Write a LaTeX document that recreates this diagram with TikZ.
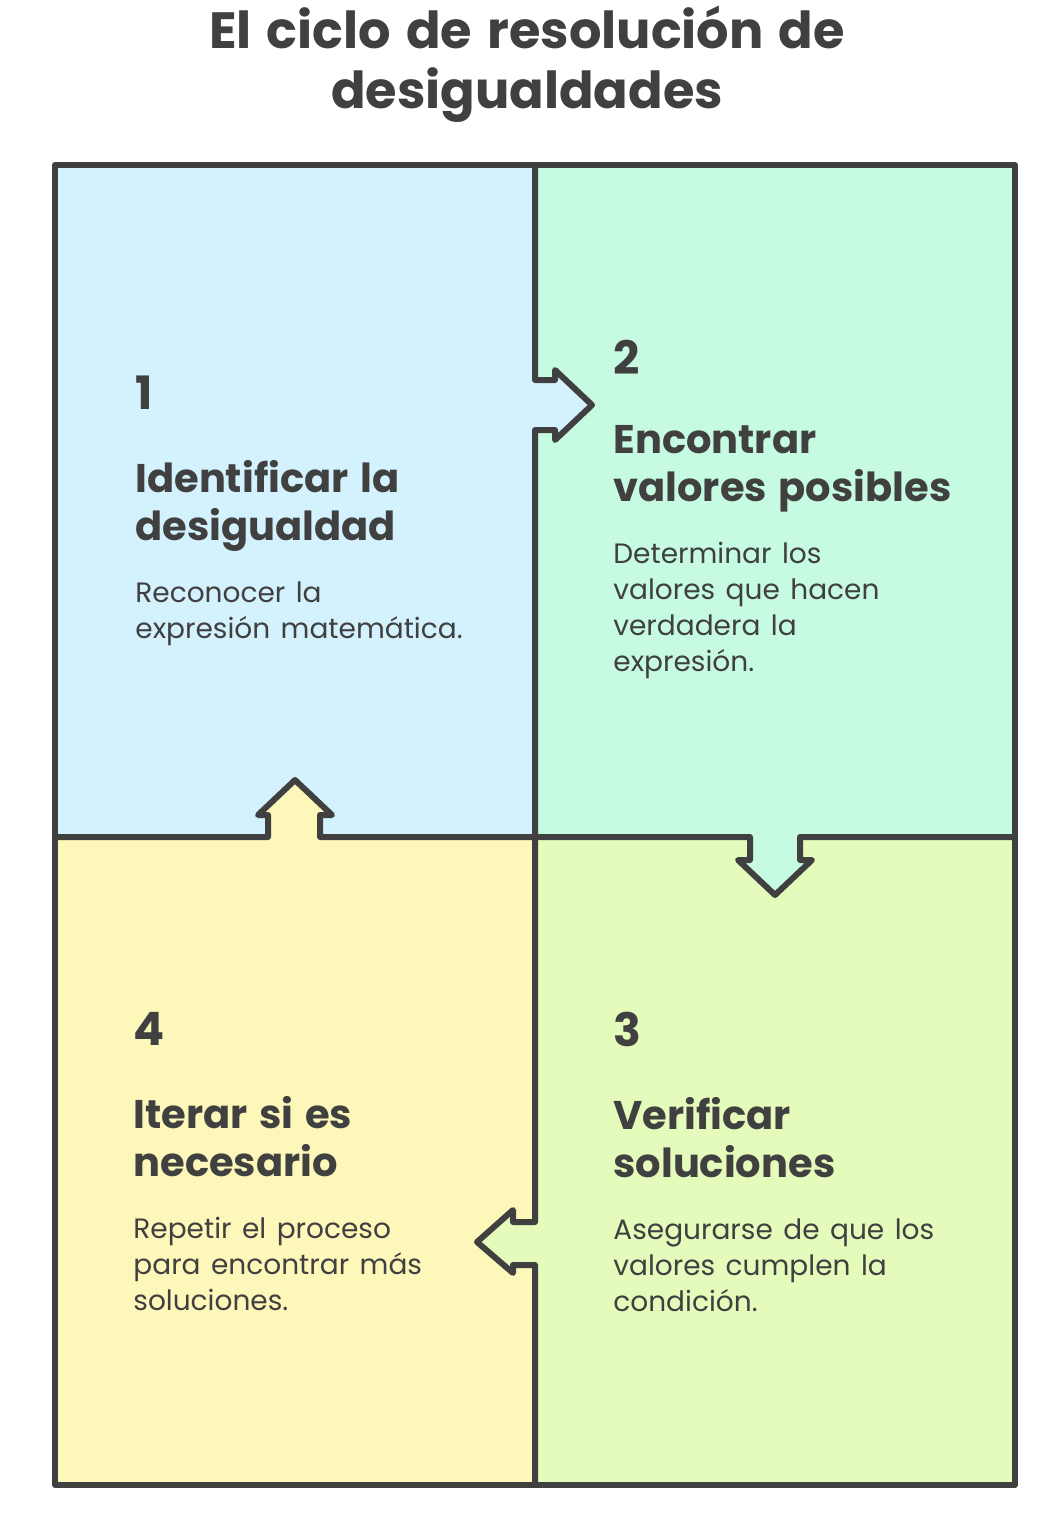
\documentclass[tikz,border=0pt]{standalone}
\usepackage{fontspec}
\setmainfont{Poppins}[WordSpace=1.4]
\usetikzlibrary{positioning}
\definecolor{ink}{HTML}{404040}
\definecolor{paneblue}{HTML}{D3F2FD}
\definecolor{panemint}{HTML}{C6FAE1}
\definecolor{panelime}{HTML}{E4FBBB}
\definecolor{paneyellow}{HTML}{FDF7BA}
\tikzset{
  frame/.style={draw=ink, line width=3pt, line join=round, line cap=round},
  stepnum/.style={anchor=north west, inner sep=0pt, text=ink, font=\fontsize{23}{26}\selectfont\bfseries},
  heading/.style={anchor=north west, inner sep=0pt, align=left, text=ink, text depth=5pt, font=\fontsize{20}{24}\selectfont\bfseries},
  body/.style={anchor=north west, inner sep=0pt, align=left, text=ink, font=\fontsize{14}{18}\selectfont},
}
\begin{document}
\begin{tikzpicture}[x=0.5pt, y=-0.5pt]
\useasboundingbox (0,0) rectangle (1062,1514);
% corners of the grid
\coordinate (tl) at (55,165);
\coordinate (br) at (1015,1485);
\coordinate (mid) at (535,837);
% panels
\fill[paneblue] (tl) rectangle (mid);
\fill[panemint] (535,165) rectangle (1015,837);
\fill[paneyellow] (55,837) rectangle (535,1485);
\fill[panelime] (mid) rectangle (br);
% arrow notches take the colour of the panel they leave
\fill[paneblue] (535,380) -- (555,380) -- (555,370) -- (592,405) -- (555,440) -- (555,430) -- (535,430) -- cycle;
\fill[panemint] (750,837) -- (750,860) -- (738,860) -- (775,895) -- (812,860) -- (800,860) -- (800,837) -- cycle;
\fill[panelime] (535,1222) -- (513,1222) -- (513,1210) -- (477,1242) -- (513,1273) -- (513,1265) -- (535,1265) -- cycle;
\fill[paneyellow] (268,837) -- (268,815) -- (258,815) -- (295,780) -- (332,815) -- (320,815) -- (320,837) -- cycle;
% outline
\draw[frame] (tl) rectangle (br);
\draw[frame] (535,165) -- (535,380) -- (555,380) -- (555,370) -- (592,405) -- (555,440) -- (555,430) -- (535,430)
  -- (535,1222) -- (513,1222) -- (513,1210) -- (477,1242) -- (513,1273) -- (513,1265) -- (535,1265) -- (535,1485);
\draw[frame] (55,837) -- (268,837) -- (268,815) -- (258,815) -- (295,780) -- (332,815) -- (320,815) -- (320,837) -- (mid);
\draw[frame] (mid) -- (750,837) -- (750,860) -- (738,860) -- (775,895) -- (812,860) -- (800,860) -- (800,837) -- (1015,837);
% title
\node[anchor=north, align=center, inner sep=0pt, text=ink, font=\fontsize{25.5}{30}\selectfont\bfseries] (title) at (527,6)
  {El ciclo de resolución de\\desigualdades};
% step 1
\node[stepnum] (num1) at (135,376) {1};
\node[heading, below=25pt of num1.south west, anchor=north west] (head1) {Identificar la\\desigualdad};
\node[body, below=15pt of head1.south west, anchor=north west] (text1) {Reconocer la\\expresión matemática.};
% step 2
\node[stepnum] (num2) at (613,340) {2};
\node[heading, below=25pt of num2.south west, anchor=north west] (head2) {Encontrar\\valores posibles};
\node[body, below=15pt of head2.south west, anchor=north west] (text2) {Determinar los\\valores que hacen\\verdadera la\\expresión.};
% step 3
\node[stepnum] (num3) at (613,1012) {3};
\node[heading, below=25pt of num3.south west, anchor=north west] (head3) {Verificar\\soluciones};
\node[body, below=15pt of head3.south west, anchor=north west] (text3) {Asegurarse de que los\\valores cumplen la\\condición.};
% step 4
\node[stepnum] (num4) at (133,1012) {4};
\node[heading, below=25pt of num4.south west, anchor=north west] (head4) {Iterar si es\\necesario};
\node[body, below=15pt of head4.south west, anchor=north west] (text4) {Repetir el proceso\\para encontrar más\\soluciones.};
\end{tikzpicture}
\end{document}
